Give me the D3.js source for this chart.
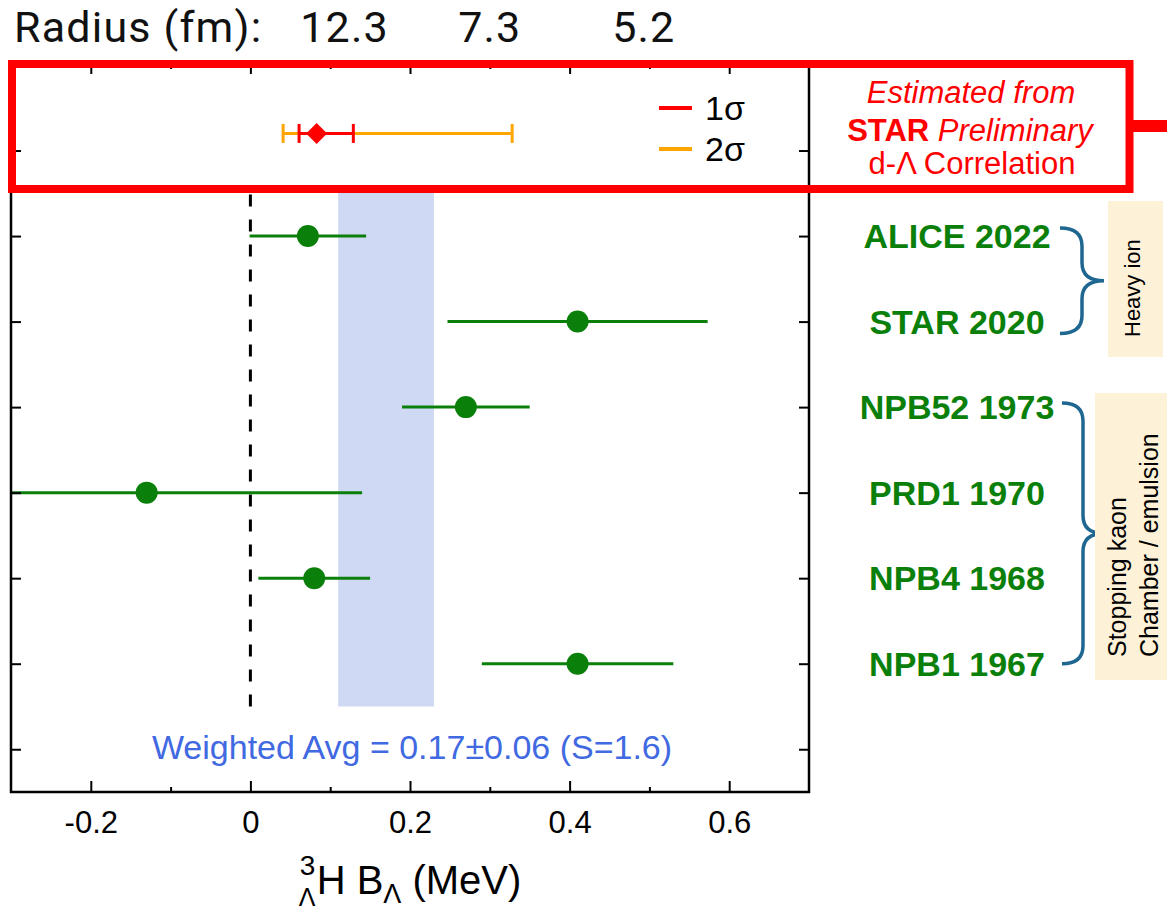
<!DOCTYPE html>
<html>
<head>
<meta charset="utf-8">
<script src="https://cdn.jsdelivr.net/npm/d3@7"></script>
<style>
  body { margin: 0; background: #fff; }
  svg { display: block; font-family: "Liberation Sans", Arial, sans-serif; }
</style>
</head>
<body>
<script>
// measurements, one entry per row
const experiments = ["ALICE 2022", "STAR 2020", "NPB52 1973", "PRD1 1970", "NPB4 1968", "NPB1 1967"]
const rows = [7, 6, 5, 4, 3, 2]
const bValues = [0.072, 0.41, 0.27, -0.13, 0.08, 0.41]
const bErrors = [0.073, 0.163, 0.08, 0.27, 0.07, 0.12]

// d-Lambda correlation estimate (asymmetric intervals)
const estRow = 8.2
const estValue = 0.083
const est1sigma = [0.061, 0.129]
const est2sigma = [0.041, 0.328]

// weighted average band
const avgValue = 0.17
const avgError = 0.06
const avgRows = [1.5, 7.53]

// axis ticks
const xMajor = [-0.2, 0, 0.2, 0.4, 0.6]
const xMajorLabels = ["-0.2", "0", "0.2", "0.4", "0.6"]
const xMinor = [-0.1, 0.1, 0.3, 0.5]
const yTicks = [1, 2, 3, 4, 5, 6, 7, 8]

// radius scale shown along the top
const radiusLabels = ["12.3", "7.3", "5.2"]
const radiusAtB = [0.118, 0.30, 0.493]

const w = 1167
const h = 916
const green = "#0a800a"

const svg = d3.select("body").append("svg")
    .attr("width", w)
    .attr("height", h)

const xScale = d3.scaleLinear().domain([-0.3, 0.7]).range([11, 809])
const yScale = d3.scaleLinear().domain([0.5, 9]).range([792, 65])

svg.append("clipPath").attr("id", "plot-clip")
    .append("rect")
    .attr("x", xScale(-0.3)).attr("y", yScale(9))
    .attr("width", xScale(0.7) - xScale(-0.3))
    .attr("height", yScale(0.5) - yScale(9))

const plot = svg.append("g").attr("clip-path", "url(#plot-clip)")

// weighted average band
plot.append("rect")
    .attr("x", xScale(avgValue - avgError))
    .attr("y", yScale(avgRows[1]))
    .attr("width", xScale(avgValue + avgError) - xScale(avgValue - avgError))
    .attr("height", yScale(avgRows[0]) - yScale(avgRows[1]))
    .attr("fill", "#cfd9f4")

// zero line
plot.append("line")
    .attr("x1", xScale(0)).attr("x2", xScale(0))
    .attr("y1", yScale(avgRows[0])).attr("y2", yScale(avgRows[1]))
    .attr("stroke", "#000")
    .attr("stroke-width", 3)
    .attr("stroke-dasharray", "12,13")

// error bars + points
const data = experiments.map((name, i) => ({ name, row: rows[i], b: bValues[i], err: bErrors[i] }))

plot.selectAll(".errbar")
    .data(data)
    .enter()
    .append("line")
    .attr("class", "errbar")
    .attr("x1", d => xScale(d.b - d.err))
    .attr("x2", d => xScale(d.b + d.err))
    .attr("y1", d => yScale(d.row))
    .attr("y2", d => yScale(d.row))
    .attr("stroke", green)
    .attr("stroke-width", 3)

plot.selectAll(".point")
    .data(data)
    .enter()
    .append("circle")
    .attr("class", "point")
    .attr("cx", d => xScale(d.b))
    .attr("cy", d => yScale(d.row))
    .attr("r", 11)
    .attr("fill", green)

// correlation estimate: 2 sigma under 1 sigma
const ey = yScale(estRow)
const capH = 9.5
const intervals = [{ lim: est2sigma, color: "#ffa500" }, { lim: est1sigma, color: "#ff0000" }]
intervals.forEach(iv => {
    plot.append("line")
        .attr("x1", xScale(iv.lim[0])).attr("x2", xScale(iv.lim[1]))
        .attr("y1", ey).attr("y2", ey)
        .attr("stroke", iv.color).attr("stroke-width", 3)
    plot.selectAll(null)
        .data(iv.lim)
        .enter()
        .append("line")
        .attr("x1", d => xScale(d)).attr("x2", d => xScale(d))
        .attr("y1", ey - capH).attr("y2", ey + capH)
        .attr("stroke", iv.color).attr("stroke-width", 3)
})
plot.append("path")
    .attr("d", d3.symbol(d3.symbolSquare).size(220)())
    .attr("transform", `translate(${xScale(estValue)},${ey}) rotate(45)`)
    .attr("fill", "#ff0000")

// axes, ticks pointing inward
const bottomAxis = svg.append("g").attr("transform", `translate(0,${yScale(0.5)})`)
bottomAxis.call(d3.axisBottom(xScale).tickValues(xMajor).tickSize(-11).tickPadding(19)
    .tickFormat((d, i) => xMajorLabels[i]))
bottomAxis.append("g").call(d3.axisBottom(xScale).tickValues(xMinor).tickSize(-5).tickFormat(""))

const topAxis = svg.append("g").attr("transform", `translate(0,${yScale(9)})`)
topAxis.call(d3.axisTop(xScale).tickValues(xMajor).tickSize(-9).tickFormat(""))
topAxis.append("g").call(d3.axisTop(xScale).tickValues(xMinor).tickSize(-4).tickFormat(""))

svg.append("g").attr("transform", `translate(${xScale(-0.3)},0)`)
    .call(d3.axisLeft(yScale).tickValues(yTicks).tickSize(-10).tickFormat(""))
svg.append("g").attr("transform", `translate(${xScale(0.7)},0)`)
    .call(d3.axisRight(yScale).tickValues(yTicks).tickSize(-10).tickFormat(""))

svg.selectAll(".domain").remove()
svg.selectAll(".tick line").attr("stroke", "#000").attr("stroke-width", 2)
svg.selectAll(".tick text")
    .attr("font-size", 31)
    .attr("font-family", "Liberation Sans, Arial, sans-serif")
    .attr("fill", "#000")

// frame
svg.append("rect")
    .attr("x", xScale(-0.3)).attr("y", yScale(9))
    .attr("width", xScale(0.7) - xScale(-0.3))
    .attr("height", yScale(0.5) - yScale(9))
    .attr("fill", "none")
    .attr("stroke", "#000")
    .attr("stroke-width", 2.5)

// weighted average label
svg.append("text")
    .attr("x", xScale(0.2) + 2)
    .attr("y", yScale(1) + 10)
    .attr("text-anchor", "middle")
    .attr("font-size", 34)
    .attr("fill", "#4169e1")
    .text(`Weighted Avg = ${avgValue.toFixed(2)}±${avgError.toFixed(2)} (S=1.6)`)

// x axis title with pre-scripts
const titleY = 894
const title = svg.append("text").attr("y", titleY).attr("font-size", 40)
title.append("tspan").text("H B")
title.append("tspan").attr("font-size", 27).attr("dy", 9).text("Λ")
title.append("tspan").attr("dy", -9).text(" (MeV)")
const preW = 18
const titleW = title.node().getComputedTextLength() + preW
const titleX = (xScale(-0.3) + xScale(0.7)) / 2 - titleW / 2
title.attr("x", titleX + preW)
svg.append("text").attr("x", titleX + 1).attr("y", titleY - 19).attr("font-size", 28).text("3")
svg.append("text").attr("x", titleX).attr("y", titleY + 12).attr("font-size", 25).text("Λ")

// radius header
const header = svg.append("g")
    .attr("font-family", "Roboto, sans-serif")
    .attr("font-size", 43)
    .attr("letter-spacing", 1.2)
    .attr("fill", "#111")
header.append("text").attr("x", 14).attr("y", 42).text("Radius (fm):")
header.selectAll(null)
    .data(radiusLabels)
    .enter()
    .append("text")
    .attr("x", (d, i) => xScale(radiusAtB[i]))
    .attr("y", 42)
    .attr("text-anchor", "middle")
    .text(d => d)

// experiment labels
svg.selectAll(".exp-label")
    .data(data)
    .enter()
    .append("text")
    .attr("class", "exp-label")
    .attr("x", 957)
    .attr("y", d => yScale(d.row) + 12)
    .attr("text-anchor", "middle")
    .attr("font-size", 34)
    .attr("font-weight", "bold")
    .attr("fill", green)
    .text(d => d.name)

// group braces
function brace(x0, x1, x2, yTop, yBot, r) {
    const ym = (yTop + yBot) / 2
    return `M${x0},${yTop} Q${x1},${yTop} ${x1},${yTop + r} L${x1},${ym - r} Q${x1},${ym} ${x2},${ym}` +
        ` Q${x1},${ym} ${x1},${ym + r} L${x1},${yBot - r} Q${x1},${yBot} ${x0},${yBot}`
}
const braceColor = "#1f6690"
svg.append("path")
    .attr("d", brace(1060, 1082, 1104, yScale(7) - 8, yScale(6) + 12, 18))
    .attr("fill", "none").attr("stroke", braceColor).attr("stroke-width", 3.5)
svg.append("path")
    .attr("d", brace(1062, 1083, 1104, yScale(5) - 4, yScale(2) + 0, 18))
    .attr("fill", "none").attr("stroke", braceColor).attr("stroke-width", 3.5)

// group tags
const tagFill = "#fdf1d7"
svg.append("rect").attr("x", 1108).attr("y", 201).attr("width", 55).attr("height", 156).attr("fill", tagFill)
svg.append("text")
    .attr("transform", "translate(1140,337) rotate(-90)")
    .attr("font-size", 22)
    .text("Heavy ion")
svg.append("rect").attr("x", 1095).attr("y", 393).attr("width", 72).attr("height", 287).attr("fill", tagFill)
svg.append("text")
    .attr("transform", "translate(1126,657) rotate(-90)")
    .attr("font-size", 25)
    .text("Stopping kaon")
svg.append("text")
    .attr("transform", "translate(1158,657) rotate(-90)")
    .attr("font-size", 25)
    .text("Chamber / emulsion")

// legend for the estimate
const legend = [{ label: "1σ", color: "#ff0000", y: 108 }, { label: "2σ", color: "#ffa500", y: 149 }]
legend.forEach(l => {
    svg.append("line")
        .attr("x1", 659).attr("x2", 692)
        .attr("y1", l.y).attr("y2", l.y)
        .attr("stroke", l.color).attr("stroke-width", 4)
    svg.append("text")
        .attr("x", 705).attr("y", l.y + 12)
        .attr("font-size", 34)
        .text(l.label)
})

// highlight box around the correlation estimate
svg.append("rect")
    .attr("x", 12).attr("y", 64)
    .attr("width", 1117.5).attr("height", 125)
    .attr("fill", "none")
    .attr("stroke", "#ff0000")
    .attr("stroke-width", 8)
svg.append("line")
    .attr("x1", 1133).attr("x2", 1167)
    .attr("y1", 126).attr("y2", 126)
    .attr("stroke", "#ff0000")
    .attr("stroke-width", 12)

const note = svg.append("g").attr("fill", "#ff0000").attr("font-size", 31).attr("text-anchor", "middle")
note.append("text").attr("x", 971).attr("y", 103).attr("font-style", "italic").text("Estimated from")
const starLine = note.append("text").attr("x", 970).attr("y", 141)
starLine.append("tspan").attr("font-weight", "bold").text("STAR")
starLine.append("tspan").attr("font-style", "italic").text(" Preliminary")
note.append("text").attr("x", 972).attr("y", 174).text("d-Λ Correlation")
</script>
</body>
</html>
